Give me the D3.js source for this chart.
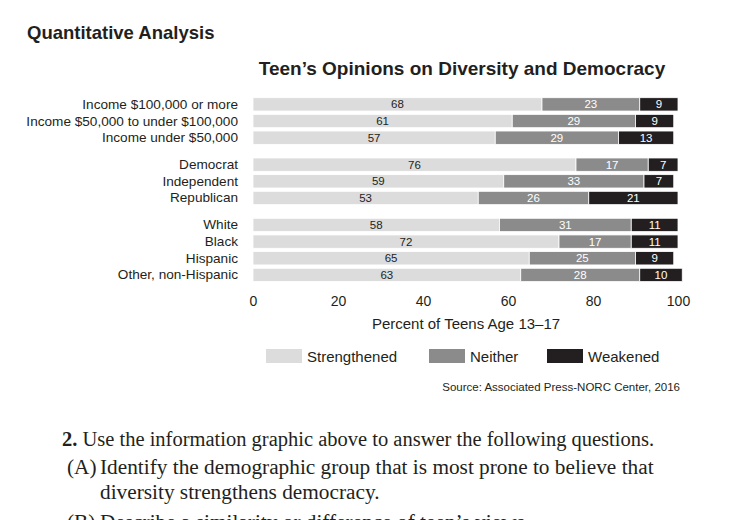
<!DOCTYPE html>
<html>
<head>
<meta charset="utf-8">
<script src="https://cdn.jsdelivr.net/npm/d3@7"></script>
<style>
  body { margin: 0; background: #fff; }
  svg { display: block; }
</style>
</head>
<body>
<svg id="chart" width="746" height="520"></svg>
<script>
// ---- data ----
const categories = [
  "Income $100,000 or more",
  "Income $50,000 to under $100,000",
  "Income under $50,000",
  "Democrat",
  "Independent",
  "Republican",
  "White",
  "Black",
  "Hispanic",
  "Other, non-Hispanic"
];
const groupIndex = [0, 0, 0, 1, 1, 1, 2, 2, 2, 2];
const strengthened = [68, 61, 57, 76, 59, 53, 58, 72, 65, 63];
const neither      = [23, 29, 29, 17, 33, 26, 31, 17, 25, 28];
const weakened     = [9, 9, 13, 7, 7, 21, 11, 11, 9, 10];
const seriesKeys = ["Strengthened", "Neither", "Weakened"];
const xTicks = [0, 20, 40, 60, 80, 100];

// ---- styles ----
const colors = { Strengthened: "#dcdcdd", Neither: "#8b8b8b", Weakened: "#231f20" };
const labelColors = { Strengthened: "#231f20", Neither: "#ffffff", Weakened: "#ffffff" };
const sans = "'Liberation Sans', Arial, Helvetica, sans-serif";
const serif = "'Liberation Serif', 'Times New Roman', serif";
const ink = "#231f20";

const svg = d3.select("#chart");

const rows = categories.map((c, i) => ({
  category: c, group: groupIndex[i],
  Strengthened: strengthened[i], Neither: neither[i], Weakened: weakened[i]
}));

const x = d3.scaleLinear().domain([0, 100]).range([253, 678]);
const groupGap = 10.3;
const y = d3.scaleBand().domain(categories).range([97.7, 97.7 + 163.3])
  .paddingInner(0.2).paddingOuter(0);
const yPos = d => y(d.category) + d.group * groupGap;

const stacked = d3.stack().keys(seriesKeys)(rows);

// page header
svg.append("text").attr("x", 27).attr("y", 38.5)
  .attr("font-family", sans).attr("font-weight", "bold").attr("font-size", 18.5)
  .attr("fill", ink).text("Quantitative Analysis");

// chart title
svg.append("text").attr("x", 462).attr("y", 75).attr("text-anchor", "middle")
  .attr("font-family", sans).attr("font-weight", "bold").attr("font-size", 19)
  .attr("fill", ink).text("Teen\u2019s Opinions on Diversity and Democracy");

// bars
const layer = svg.append("g").selectAll("g").data(stacked).join("g")
  .attr("fill", s => colors[s.key]);
layer.selectAll("rect").data(s => s.map(d => ({ d, key: s.key }))).join("rect")
  .attr("x", o => x(o.d[0]))
  .attr("y", o => yPos(o.d.data))
  .attr("width", o => x(o.d[1]) - x(o.d[0]))
  .attr("height", y.bandwidth())
  .attr("stroke", "#ffffff").attr("stroke-width", 0.8);

// value labels
layer.selectAll("text").data(s => s.map(d => ({ d, key: s.key }))).join("text")
  .attr("x", o => x((o.d[0] + o.d[1]) / 2))
  .attr("y", o => yPos(o.d.data) + y.bandwidth() / 2 + 4)
  .attr("text-anchor", "middle")
  .attr("font-family", sans).attr("font-size", 11.5)
  .attr("fill", o => labelColors[o.key])
  .text(o => o.d.data[o.key]);

// category labels
svg.append("g").selectAll("text").data(rows).join("text")
  .attr("x", 238)
  .attr("y", d => yPos(d) + y.bandwidth() / 2 + 4.5)
  .attr("text-anchor", "end")
  .attr("font-family", sans).attr("font-size", 13.6)
  .attr("fill", ink)
  .text(d => d.category);

// x axis (labels only)
const axisBottom = d3.axisBottom(x).tickValues(xTicks).tickSize(0).tickPadding(0);
const ax = svg.append("g").attr("transform", "translate(0,296)").call(axisBottom);
ax.select(".domain").remove();
ax.selectAll("text").attr("font-family", sans).attr("font-size", 14).attr("fill", ink)
  .attr("dy", "0.71em");

svg.append("text").attr("x", 466).attr("y", 328.5).attr("text-anchor", "middle")
  .attr("font-family", sans).attr("font-size", 15).attr("fill", ink)
  .text("Percent of Teens Age 13\u201317");

// legend
const legendX = [266, 429, 547];
const lg = svg.append("g").selectAll("g").data(seriesKeys).join("g")
  .attr("transform", (k, i) => `translate(${legendX[i]},349)`);
lg.append("rect").attr("width", 36).attr("height", 14).attr("fill", k => colors[k]);
lg.append("text").attr("x", 41).attr("y", 12.5)
  .attr("font-family", sans).attr("font-size", 15).attr("fill", ink).text(k => k);

// source
svg.append("text").attr("x", 680).attr("y", 390.5).attr("text-anchor", "end")
  .attr("font-family", sans).attr("font-size", 11.5).attr("fill", ink)
  .text("Source: Associated Press-NORC Center, 2016");

// question text
const q = svg.append("g").attr("font-family", serif).attr("font-size", 20.5).attr("fill", ink);
const l1 = q.append("text").attr("x", 62).attr("y", 446);
l1.append("tspan").attr("font-weight", "bold").text("2.");
l1.append("tspan").text(" Use the information graphic above to answer the following questions.");
q.append("text").attr("x", 67).attr("y", 474).attr("font-size", 21.3).text("(A)");
q.append("text").attr("x", 100).attr("y", 474).attr("font-size", 21.3)
  .text("Identify the demographic group that is most prone to believe that");
q.append("text").attr("x", 100).attr("y", 499).attr("font-size", 21.3)
  .text("diversity strengthens democracy.");
q.append("text").attr("x", 67).attr("y", 529).attr("font-size", 21.3).text("(B)");
q.append("text").attr("x", 100).attr("y", 529).attr("font-size", 21.3)
  .text("Describe a similarity or difference of teen\u2019s views");
</script>
</body>
</html>
